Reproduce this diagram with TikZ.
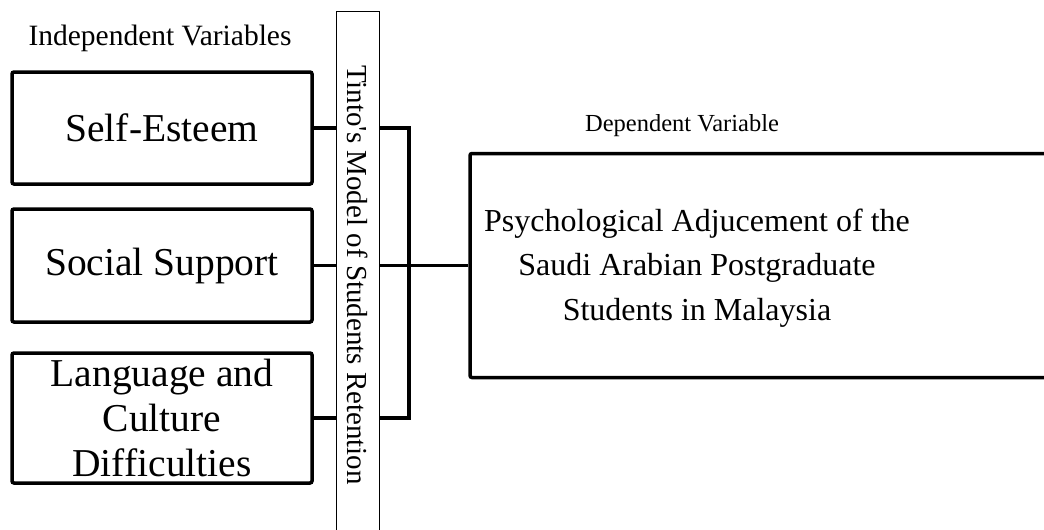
\documentclass[tikz,border=0pt]{standalone}
\usepackage{fontspec}
\setmainfont{Liberation Serif}
\usepackage{tikz}
\usetikzlibrary{positioning}

\begin{document}
\begin{tikzpicture}[
  x=1pt, y=-1pt,
  varbox/.style={draw, line width=3.5pt, rounded corners=2pt, minimum width=300pt, inner sep=0pt, align=center, font=\fontsize{39.5}{45}\selectfont},
  column/.style={draw, line width=0.8pt, rotate=-90, minimum width=528pt, minimum height=43pt, inner sep=0pt, font=\fontsize{29}{34}\selectfont},
  heading/.style={inner sep=0pt, font=\fontsize{29.5}{34}\selectfont},
  outbox/.style={draw, line width=3.5pt, rounded corners=2pt, minimum width=590pt, minimum height=224pt},
  outtext/.style={inner sep=0pt, align=center, font=\fontsize{32}{44.5}\selectfont},
  link/.style={line width=3.5pt}
]
\useasboundingbox (0,0) rectangle (1044,530);
\clip (0,0) rectangle (1044,530);

% independent side
\node[heading] (indep) at (160,38) {Independent Variables};
\node[varbox, minimum height=112pt] (esteem) at (162,128) {Self-Esteem};
\node[varbox, minimum height=113pt, below=21.5pt of esteem] (support) {Social Support};
\node[varbox, minimum height=130pt, below=27.5pt of support] (language) {Language and\\Culture\\Difficulties};

% theory column
\node[column] (tinto) at (357.5,275) {Tinto\textquotesingle s Model of Students Retention};

% dependent side
\node[heading, font=\fontsize{24.5}{30}\selectfont] (dep) at (682,126) {Dependent Variable};
\node[outbox] (outcome) at (765,265.5) {};
\node[outtext] (outlabel) at (697,268) {Psychological Adjucement of the\\Saudi Arabian Postgraduate\\Students in Malaysia};

\coordinate (bus) at (409,265.5);
\draw[link] (esteem.east) -- (esteem.east -| tinto.south);
\draw[link] (support.east) -- (support.east -| tinto.south);
\draw[link] (language.east) -- (language.east -| tinto.south);
\draw[link] (esteem.east -| tinto.north) -| (bus) |- (language.east -| tinto.north);
\draw[link] (support.east -| tinto.north) -- (support.east -| outcome.west);
\end{tikzpicture}
\end{document}
